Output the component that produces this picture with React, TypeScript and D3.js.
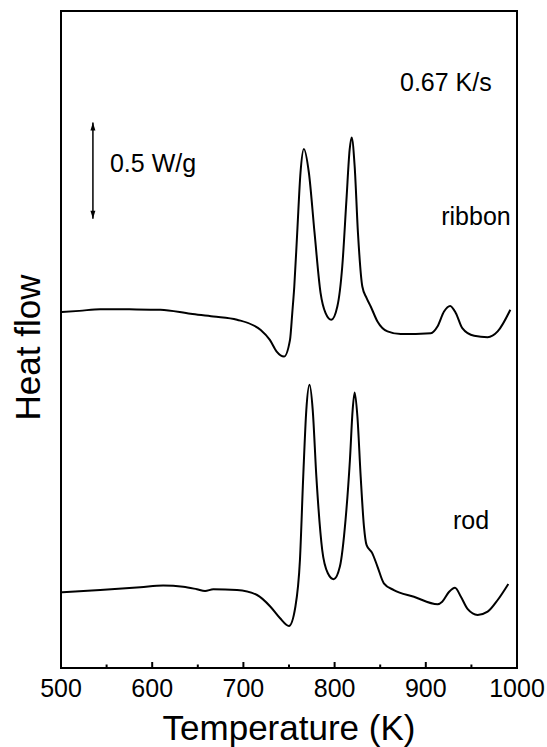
import * as d3 from "d3";
import { useEffect, useRef } from "react";

// temperature (K) and heat flow (W/g, curves offset)
const ribbonT = [501, 520, 543, 575, 609, 642, 667, 693, 719, 729, 736.5, 744.5, 751.1, 753.6, 755.8, 759, 762.6, 766.3, 771.8, 778, 784.6, 790, 796.4, 803, 808.4, 813, 816.5, 818.7, 822, 825.6, 830.4, 835, 839.6, 847, 858, 872.5, 905.5, 912.8, 920, 926.7, 933, 940, 953, 967.8, 978.8, 992.7];
const ribbonHF = [1.853, 1.859, 1.868, 1.867, 1.865, 1.844, 1.83, 1.813, 1.76, 1.708, 1.647, 1.621, 1.708, 1.849, 1.986, 2.266, 2.578, 2.702, 2.578, 2.266, 1.953, 1.849, 1.813, 1.882, 2.09, 2.438, 2.698, 2.762, 2.611, 2.266, 1.986, 1.927, 1.882, 1.804, 1.752, 1.738, 1.743, 1.778, 1.856, 1.885, 1.847, 1.769, 1.729, 1.722, 1.752, 1.865];

const rodT = [501, 543, 587, 612, 634, 649, 658, 667, 693, 715, 729.7, 740, 750, 757, 762, 765.6, 769, 772.5, 776, 780, 786.4, 792.6, 799, 805.8, 812, 816.8, 819.8, 822, 825, 828.6, 832.2, 835, 841.4, 847, 854, 865, 887, 913, 918, 925.6, 932, 938.5, 946, 956.8, 967.8, 978.8, 990.5];
const rodHF = [0.394, 0.406, 0.42, 0.429, 0.423, 0.41, 0.401, 0.41, 0.406, 0.38, 0.319, 0.26, 0.219, 0.319, 0.563, 0.996, 1.344, 1.474, 1.344, 0.996, 0.615, 0.493, 0.462, 0.528, 0.771, 1.083, 1.344, 1.434, 1.309, 0.996, 0.736, 0.641, 0.597, 0.528, 0.441, 0.406, 0.371, 0.332, 0.345, 0.397, 0.418, 0.371, 0.306, 0.276, 0.293, 0.354, 0.4375];

const xTicks = [500, 600, 700, 800, 900, 1000];
const xMinor = [550, 650, 750, 850, 950];

const labels = [
  { text: "0.67 K/s", T: 922, hf: 3.005 },
  { text: "ribbon", T: 955, hf: 2.307 },
  { text: "rod", T: 949.6, hf: 0.724 },
];

export default function App() {
  const ref = useRef<SVGSVGElement>(null);

  useEffect(() => {
    const width = 547, height = 747;
    const margin = { top: 11, right: 30, bottom: 79, left: 61 };

    const svg = d3.select(ref.current);
    svg.selectAll("*").remove();

    const x = d3.scaleLinear().domain([500, 1000]).range([margin.left, width - margin.right]);
    const y = d3.scaleLinear().domain([0, 3.42]).range([height - margin.bottom, margin.top]);

    const font = "'Liberation Sans', Arial, Helvetica, sans-serif";

    // frame
    svg.append("rect")
      .attr("x", x(500)).attr("y", y(3.42))
      .attr("width", x(1000) - x(500)).attr("height", y(0) - y(3.42))
      .attr("fill", "none").attr("stroke", "#000").attr("stroke-width", 2);

    // bottom ticks, pointing inward
    const ticks = svg.append("g");
    ticks.selectAll("line.major").data(xTicks.slice(1, -1)).enter().append("line")
      .attr("class", "major")
      .attr("x1", (d) => x(d)).attr("x2", (d) => x(d))
      .attr("y1", y(0)).attr("y2", y(0) - 6)
      .attr("stroke", "#000").attr("stroke-width", 2);
    ticks.selectAll("line.minor").data(xMinor).enter().append("line")
      .attr("class", "minor")
      .attr("x1", (d) => x(d)).attr("x2", (d) => x(d))
      .attr("y1", y(0)).attr("y2", y(0) - 3.5)
      .attr("stroke", "#000").attr("stroke-width", 2);
    ticks.selectAll("text").data(xTicks).enter().append("text")
      .attr("x", (d) => x(d)).attr("y", 697)
      .attr("text-anchor", "middle")
      .attr("font-family", font).attr("font-size", 25).attr("fill", "#000")
      .text((d) => d3.format("d")(d));

    // curves
    const line = d3.line<[number, number]>()
      .x((d) => x(d[0])).y((d) => y(d[1]))
      .curve(d3.curveMonotoneX);

    const series = [
      ribbonT.map((t, i) => [t, ribbonHF[i]] as [number, number]),
      rodT.map((t, i) => [t, rodHF[i]] as [number, number]),
    ];
    svg.append("g").selectAll("path").data(series).enter().append("path")
      .attr("d", (d) => line(d))
      .attr("fill", "none").attr("stroke", "#000").attr("stroke-width", 2);

    // scale bar 0.5 W/g
    const barT = 535;
    const barBottom = 2.339;
    svg.append("line")
      .attr("x1", x(barT)).attr("x2", x(barT))
      .attr("y1", y(barBottom)).attr("y2", y(barBottom + 0.5))
      .attr("stroke", "#000").attr("stroke-width", 1.5);
    const head = (tip: number, dir: number) =>
      `M${x(barT) - 2.5},${tip + dir * 8} L${x(barT)},${tip} L${x(barT) + 2.5},${tip + dir * 8} Z`;
    svg.append("path").attr("d", head(y(barBottom + 0.5), 1)).attr("fill", "#000");
    svg.append("path").attr("d", head(y(barBottom), -1)).attr("fill", "#000");
    svg.append("text")
      .attr("x", x(553.7)).attr("y", y(2.583))
      .attr("font-family", font).attr("font-size", 25).attr("fill", "#000")
      .text("0.5 W/g");

    svg.selectAll("text.lab").data(labels).enter().append("text")
      .attr("class", "lab")
      .attr("x", (d) => x(d.T)).attr("y", (d) => y(d.hf))
      .attr("text-anchor", "middle")
      .attr("font-family", font).attr("font-size", 25).attr("fill", "#000")
      .text((d) => d.text);

    // axis titles
    svg.append("text")
      .attr("x", x(750)).attr("y", 740)
      .attr("text-anchor", "middle")
      .attr("font-family", font).attr("font-size", 35).attr("fill", "#000")
      .text("Temperature (K)");

    svg.append("text")
      .attr("transform", `translate(40,${(y(0) + y(3.42)) / 2 + 8}) rotate(-90)`)
      .attr("text-anchor", "middle")
      .attr("font-family", font).attr("font-size", 35).attr("fill", "#000")
      .text("Heat flow");
  }, []);

  return (
    <svg
      ref={ref}
      width={547}
      height={747}
      style={{ position: "absolute", left: 0, top: 0, background: "#fff" }}
    />
  );
}
